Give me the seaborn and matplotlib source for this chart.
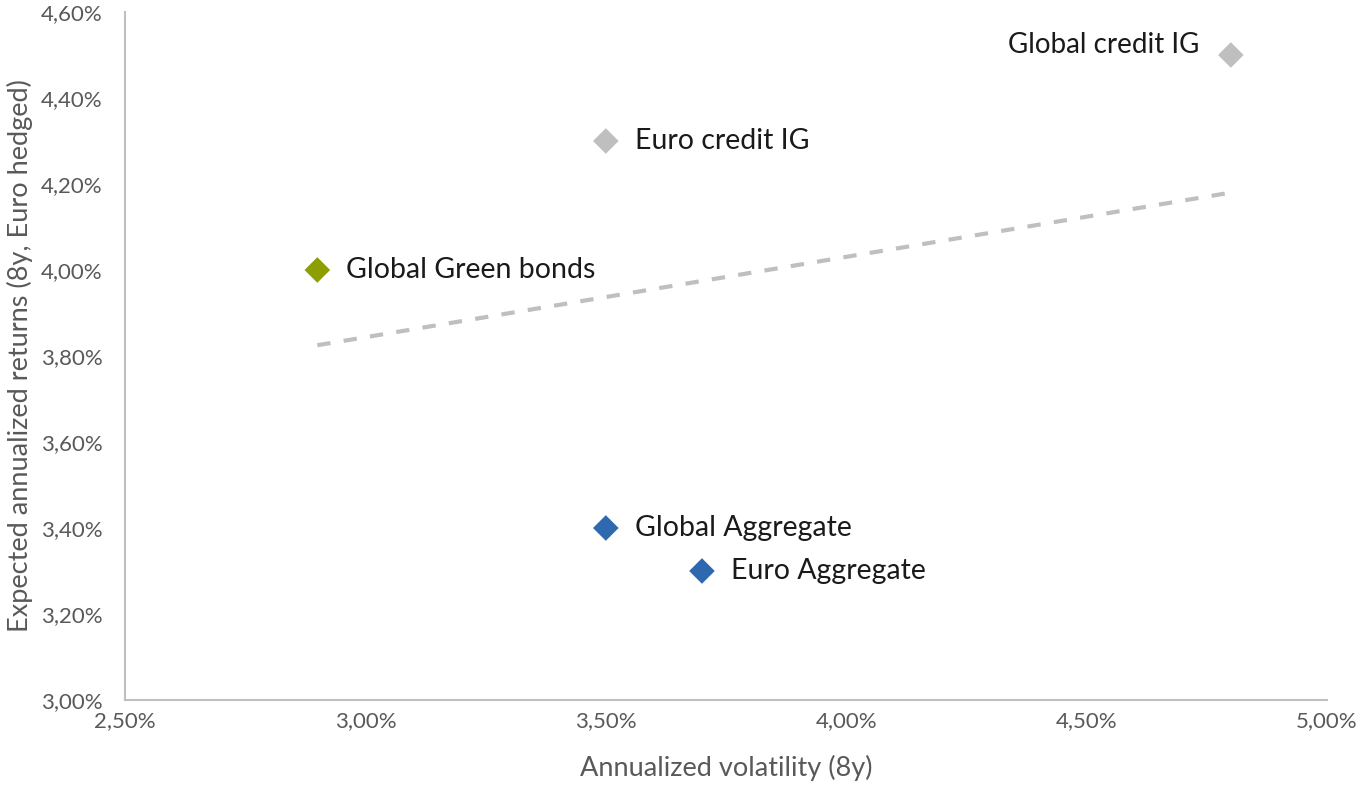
import matplotlib
matplotlib.use("Agg")
import matplotlib.pyplot as plt
import seaborn as sns
import pandas as pd
from matplotlib.ticker import FuncFormatter

names = ["Global credit IG", "Euro credit IG", "Global Green bonds", "Global Aggregate", "Euro Aggregate"]
volatility = [4.8, 3.5, 2.9, 3.5, 3.7]
returns = [4.5, 4.3, 4.0, 3.4, 3.3]
groups = ["credit", "credit", "green", "aggregate", "aggregate"]

trend_x = [2.9, 4.8]
trend_y = [3.825, 4.18]

x_ticks = [2.5, 3.0, 3.5, 4.0, 4.5, 5.0]
y_ticks = [3.0, 3.2, 3.4, 3.6, 3.8, 4.0, 4.2, 4.4, 4.6]

sns.set_theme(style="white")
plt.rcParams['font.family'] = ['Lato', 'DejaVu Sans']

df = pd.DataFrame({"name": names, "vol": volatility, "ret": returns, "grp": groups})
tdf = pd.DataFrame({"x": trend_x, "y": trend_y})

fig = plt.figure(figsize=(13.61, 7.87), dpi=100)
ax = fig.add_axes([125/1361, 1-700/787, (1327-125)/1361, (700-12)/787])

sns.lineplot(data=tdf, x="x", y="y", ax=ax, color="#BFBFBF", lw=3, linestyle=(0, (3.2, 3.2)))
palette = {"credit": "#BFBFBF", "green": "#8C9E00", "aggregate": "#2E69B0"}
sns.scatterplot(data=df, x="vol", y="ret", hue="grp", palette=palette, marker="D", s=170,
                edgecolor="none", ax=ax, legend=False, zorder=3)

for n, x, y in zip(names, volatility, returns):
    if n == "Global credit IG":
        ax.annotate(n, (x, y), xytext=(-23, 7), textcoords="offset points", ha="right", va="center",
                    fontsize=20, color="#1a1a1a")
    else:
        ax.annotate(n, (x, y), xytext=(21, 0), textcoords="offset points", ha="left", va="center",
                    fontsize=20.5, color="#1a1a1a")

ax.set_xlim(2.5, 5.0)
ax.set_ylim(3.0, 4.6)
ax.set_xticks(x_ticks)
ax.set_yticks(y_ticks)
fmt = FuncFormatter(lambda v, p: f"{v:.2f}%".replace(".", ","))
ax.xaxis.set_major_formatter(fmt)
ax.yaxis.set_major_formatter(fmt)
ax.tick_params(axis="both", labelsize=16, colors="#595959", length=0)
ax.tick_params(axis="x", pad=8)
ax.tick_params(axis="y", pad=16)
for s in ["top", "right"]:
    ax.spines[s].set_visible(False)
for s in ["left", "bottom"]:
    ax.spines[s].set_color("#BFBFBF")
    ax.spines[s].set_linewidth(1.5)
ax.set_xlabel("Annualized volatility (8y)", fontsize=19.5, color="#595959", labelpad=17)
ax.set_ylabel("Expected annualized returns (8y, Euro hedged)", fontsize=19.5, color="#595959", labelpad=6)

fig.savefig("out.png", dpi=100)
